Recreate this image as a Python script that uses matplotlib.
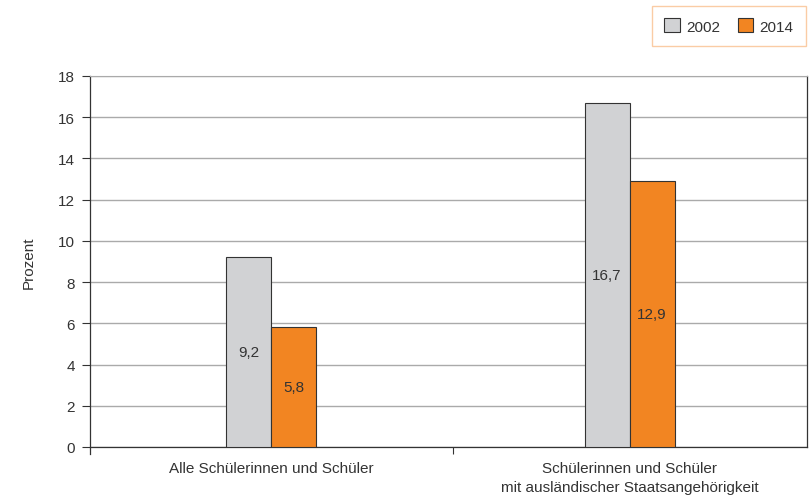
import numpy as np
import matplotlib.pyplot as plt

plt.rcParams['font.family'] = ['Liberation Sans', 'DejaVu Sans']

# data
categories = ['Alle Schülerinnen und Schüler',
              'Schülerinnen und Schüler\nmit ausländischer Staatsangehörigkeit']
years = ['2002', '2014']
values_2002 = [9.2, 16.7]
values_2014 = [5.8, 12.9]
yticks = [0, 2, 4, 6, 8, 10, 12, 14, 16, 18]

grey = '#d1d2d4'
orange = '#f28522'
text_col = '#333333'
fs = 11

fig = plt.figure(figsize=(8.12, 5.02), dpi=100)
ax = fig.add_axes([90/812, 54/502, 717/812, 371/502])

x = np.arange(len(categories))
w = 0.1255
b1 = ax.bar(x - w/2, values_2002, w, color=grey, edgecolor='#333333', linewidth=0.8, label=years[0], zorder=3)
b2 = ax.bar(x + w/2, values_2014, w, color=orange, edgecolor='#333333', linewidth=0.8, label=years[1], zorder=3)

# value labels in the middle of bars
for bars, vals in [(b1, values_2002), (b2, values_2014)]:
    for r, v in zip(bars, vals):
        ax.text(r.get_x() + r.get_width()/2, v/2, f'{v:.1f}'.replace('.', ','),
                ha='center', va='center', fontsize=fs, color=text_col, zorder=4)

ax.set_ylim(0, 18)
ax.set_xlim(-0.505, 1.495)
ax.set_yticks(yticks)
ax.set_yticklabels([str(t) for t in yticks], fontsize=fs, color=text_col)
ax.yaxis.grid(True, color='#aaaaaa', linewidth=1.0, zorder=0)
ax.tick_params(axis='y', length=6, width=0.8, color='#333333', pad=5)

ax.set_xticks(x)
ax.set_xticklabels(categories, fontsize=fs, color=text_col, linespacing=1.45)
ax.tick_params(axis='x', which='major', length=0, pad=10)
ax.set_xticks([0.508], minor=True)
ax.tick_params(axis='x', which='minor', length=5, width=0.8, color='#333333')

ax.set_ylabel('Prozent', fontsize=fs, color=text_col, labelpad=16)

for s in ['left', 'right', 'bottom']:
    ax.spines[s].set_color('#333333')
    ax.spines[s].set_linewidth(0.9)
ax.spines['top'].set_color('#aaaaaa')
ax.spines['left'].set_bounds(-0.35, 18)

leg = fig.legend(handles=[b1, b2], loc='center', bbox_to_anchor=(729/812, 1 - 27/502),
                 ncol=2, fontsize=fs, frameon=True, fancybox=False,
                 handlelength=1.0, handleheight=1.0, handletextpad=0.4,
                 columnspacing=1.2, borderpad=0.8, labelcolor=text_col)
leg.get_frame().set_edgecolor('#f9c08f')
leg.get_frame().set_linewidth(1.0)

fig.savefig('out.png', dpi=100)
